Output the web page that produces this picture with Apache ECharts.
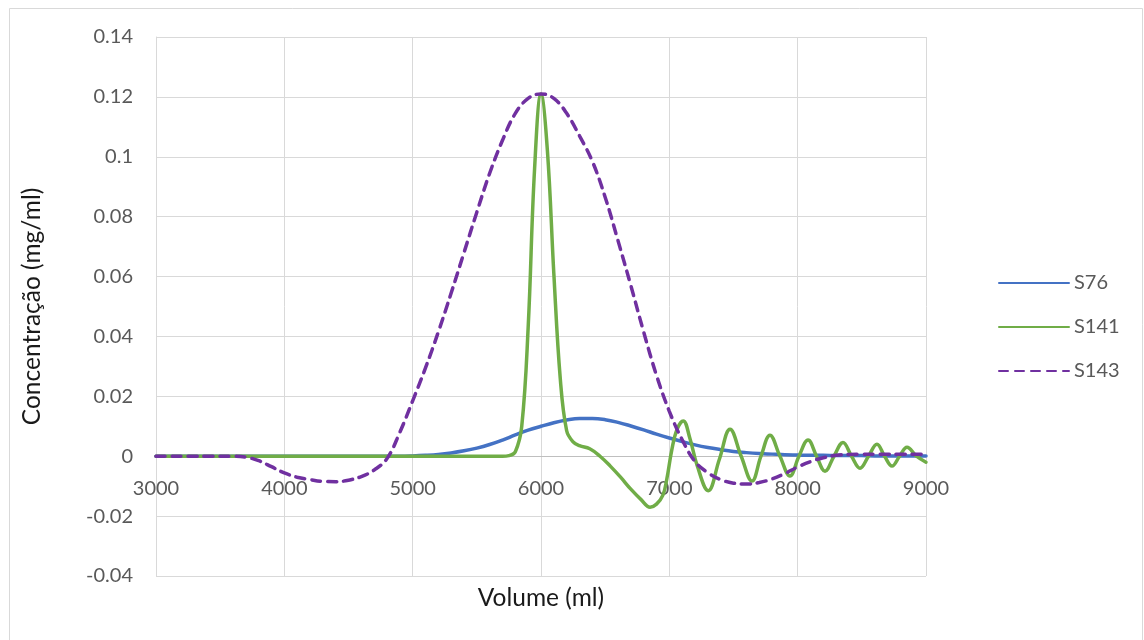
<!DOCTYPE html>
<html>
<head>
<meta charset="utf-8">
<script src="https://cdn.jsdelivr.net/npm/echarts@6/dist/echarts.min.js"></script>
<style>
  html, body { margin: 0; padding: 0; background: #fff; }
  #chart { width: 1144px; height: 640px; }
</style>
</head>
<body>
<div id="chart"></div>
<script>
// Volume samples (ml) shared by S76 and S143
const volume = [
  3000,3100,3200,3300,3400,3500,3600,3700,3800,3900,
  4000,4100,4200,4300,4400,4500,4600,4700,4800,4900,
  5000,5100,5200,5300,5400,5500,5600,5700,5800,5900,
  6000,6100,6200,6300,6400,6500,6600,6700,6800,6900,
  7000,7100,7200,7300,7400,7500,7600,7700,7800,7900,
  8000,8100,8200,8300,8400,8500,8600,8700,8800,8900,
  9000
];
const s76 = [
  0,0,0,0,0,0,0,0,0,0,
  0,0,0,0,0,0,0,0,0,0,
  0.0001,0.0003,0.0006,0.0011,0.0018,0.0027,0.0039,0.0054,0.0071,0.0087,
  0.0100,0.0112,0.0121,0.0126,0.0126,0.0122,0.0113,0.0101,0.0088,0.0074,
  0.0061,0.0049,0.0038,0.0029,0.0022,0.0016,0.0012,0.0009,0.0007,0.0005,
  0.0004,0.0003,0.0003,0.0002,0.0002,0.0002,0.0001,0.0001,0.0001,0.0001,
  0.0001
];
const s143 = [
  0,0,0,0,0,0,0,-0.0003,-0.0015,-0.0035,
  -0.0056,-0.0070,-0.0078,-0.0084,-0.0085,-0.0080,-0.0068,-0.0046,-0.0008,0.0080,
  0.0185,0.0295,0.0415,0.0545,0.0680,0.0815,0.0945,0.1055,0.1145,0.1195,
  0.1210,0.1195,0.1145,0.1070,0.0985,0.0865,0.0720,0.0570,0.0415,0.0270,
  0.0150,0.0055,-0.0018,-0.0055,-0.0078,-0.0090,-0.0093,-0.0088,-0.0076,-0.0058,
  -0.0036,-0.0018,-0.0005,0.0003,0.0006,0.0007,0.0007,0.0007,0.0007,0.0007,
  0.0006
];
// S141 has its own (denser around the peak and oscillations) volume samples
const s141Volume = [
  3000,3500,4000,4500,5000,5500,5700,5750,5800,5850,5900,5950,6000,6050,6100,6150,
  6200,6250,6300,6380,6460,6540,6620,6700,6780,6850,6900,6950,6980,7020,7060,7108,
  7160,7216,7303,7390,7473,7560,7644,7714,7784,7862,7940,8010,8081,8147,8213,8283,
  8353,8420,8486,8552,8618,8677,8735,8794,8852,8926,9000
];
const s141 = [
  0,0,0,0,0,0,0,0.0002,0.0015,0.0100,0.0430,0.0960,0.1210,0.1020,0.0610,0.0260,
  0.0085,0.0048,0.0035,0.0025,0.0000,-0.0033,-0.0070,-0.0110,-0.0145,-0.0170,-0.0160,-0.0130,-0.0077,0.0023,0.0090,0.0118,
  0.0060,-0.0030,-0.0115,-0.0010,0.0090,0.0000,-0.0083,0.0000,0.0070,0.0000,-0.0066,0.0000,0.0054,0.0000,-0.0050,0.0000,
  0.0046,0.0000,-0.0040,0.0000,0.0040,0.0000,-0.0033,0.0000,0.0030,0.0000,-0.0020
];
const seriesNames = ['S76', 'S141', 'S143'];
const xTicks = { min: 3000, max: 9000, step: 1000 };
const yTicks = { min: -0.04, max: 0.14, step: 0.02 };

const pairs = (xs, ys) => xs.map((x, i) => [x, ys[i]]);

const GRID = { left: 156, right: 218, top: 37, bottom: 64 };
const plotH = 640 - GRID.top - GRID.bottom;
// shift the x axis up from the bottom of the grid to the y = 0 line
const zeroOffset = -plotH * (0 - yTicks.min) / (yTicks.max - yTicks.min);

const FONT = 'Lato';
const chart = echarts.init(document.getElementById('chart'), null, { renderer: 'canvas' });
chart.setOption({
  animation: false,
  backgroundColor: '#ffffff',
  textStyle: { fontFamily: FONT },
  graphic: [{
    type: 'rect', silent: true, z: -10,
    shape: { x: 9.5, y: 8.5, width: 1133, height: 640 },
    style: { fill: 'none', stroke: '#d9d9d9', lineWidth: 1 }
  }],
  grid: Object.assign({ containLabel: false, outerBoundsMode: 'none' }, GRID),
  legend: {
    orient: 'vertical',
    left: 993, top: 268,
    itemWidth: 70, itemHeight: 14, itemGap: 24,
    itemStyle: { opacity: 0 },
    textStyle: { fontFamily: FONT, fontSize: 20, color: '#595959', lineHeight: 20 },
    data: seriesNames
  },
  xAxis: {
    type: 'value',
    position: 'bottom',
    offset: zeroOffset,
    min: xTicks.min, max: xTicks.max, interval: xTicks.step,
    name: 'Volume (ml)', nameLocation: 'middle', nameGap: 129,
    nameTextStyle: { fontFamily: FONT, fontSize: 24.5, color: '#1a1a1a' },
    axisLine: { show: true, onZero: false, lineStyle: { color: '#bfbfbf', width: 1 } },
    axisTick: { show: false },
    axisLabel: { fontFamily: FONT, fontSize: 20, color: '#595959', margin: 22,
      formatter: v => String(v) },
    splitLine: { show: true, lineStyle: { color: '#d9d9d9', width: 1 } }
  },
  yAxis: {
    type: 'value',
    min: yTicks.min, max: yTicks.max, interval: yTicks.step,
    name: 'Concentração (mg/ml)', nameLocation: 'middle', nameGap: 111,
    nameTextStyle: { fontFamily: FONT, fontSize: 24.5, color: '#1a1a1a' },
    axisLine: { show: true, onZero: false, lineStyle: { color: '#d9d9d9', width: 1 } },
    axisTick: { show: false },
    axisLabel: { fontFamily: FONT, fontSize: 20, color: '#595959', margin: 23,
      formatter: v => String(Math.round(v * 100) / 100) },
    splitLine: { show: true, lineStyle: { color: '#d9d9d9', width: 1 } }
  },
  series: [
    { name: 'S76', type: 'line', data: pairs(volume, s76), smooth: 0.4, symbol: 'none',
      lineStyle: { color: '#4472C4', width: 3.5, cap: 'round' }, itemStyle: { color: '#4472C4' } },
    { name: 'S141', type: 'line', data: pairs(s141Volume, s141), smooth: 0.4, symbol: 'none',
      lineStyle: { color: '#70AD47', width: 3.5, cap: 'round' }, itemStyle: { color: '#70AD47' } },
    { name: 'S143', type: 'line', data: pairs(volume, s143), smooth: 0.4, symbol: 'none',
      lineStyle: { color: '#7030A0', width: 3.5, type: [9, 7], cap: 'round' }, itemStyle: { color: '#7030A0' } }
  ]
});
</script>
</body>
</html>
